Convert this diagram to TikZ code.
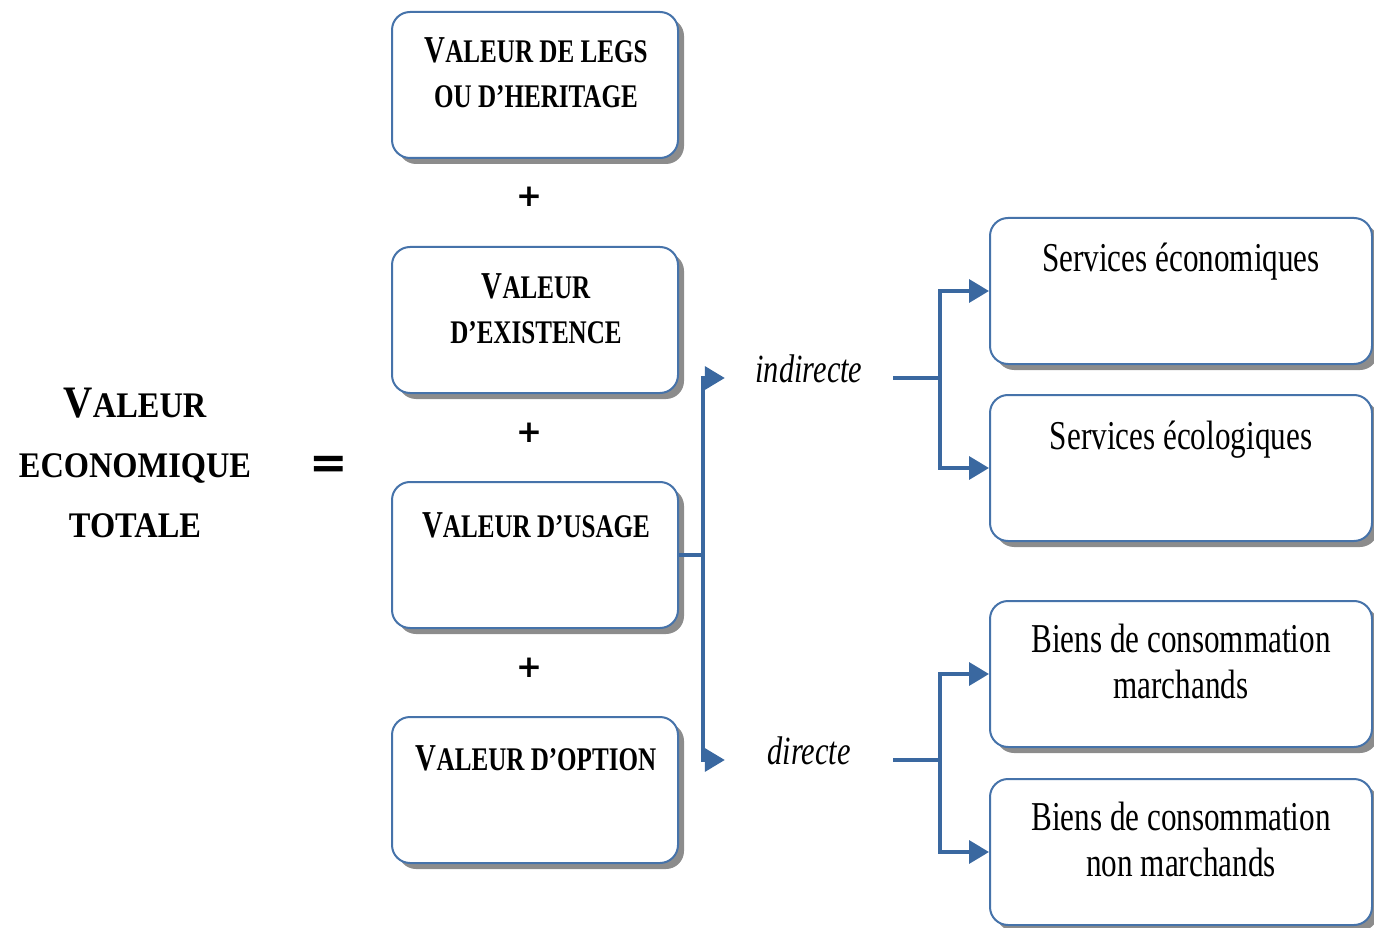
\documentclass[tikz,border=0pt]{standalone}
\usepackage{fontspec}
\setmainfont{Liberation Serif}[FakeStretch=0.76]
\newfontfamily\titlefont{Liberation Serif}[FakeStretch=0.9]
\newfontfamily\signfont{DejaVu Sans}
\usetikzlibrary{arrows.meta,shadows}
\definecolor{boxblue}{RGB}{70,115,170}
\definecolor{linkblue}{RGB}{58,104,160}
\newcommand\smc[1]{{\fontsize{33}{45}\selectfont #1}}
\tikzset{
  box/.style={draw=boxblue, line width=2pt, rounded corners=18pt, fill=white,
    minimum width=286pt, minimum height=146pt, inner sep=0pt,
    drop shadow={shadow xshift=6pt, shadow yshift=-6pt, fill=black!60, opacity=0.75}},
  rbox/.style={box, minimum width=382pt},
  conn/.style={draw=linkblue, line width=3.5pt},
  tipend/.style={-{Triangle[length=20pt,width=23pt]}},
  lbl/.style={anchor=base, align=center, inner sep=0pt},
  boxtext/.style={lbl, font=\bfseries\fontsize{38}{45}\selectfont},
  rtext/.style={lbl, font=\fontsize{41}{46}\selectfont},
  branch/.style={inner sep=0pt, minimum width=168pt, text height=12pt, text depth=4pt,
    font=\itshape\fontsize{40}{40}\selectfont},
  sign/.style={inner sep=0pt, font=\signfont\bfseries\fontsize{31}{31}\selectfont}
}
\begin{document}
\begin{tikzpicture}[x=1pt,y=-1pt]
\useasboundingbox (0,0) rectangle (1374,928);

% left column boxes
\node[box] (b1) at (535,85) {};
\node[box] (b2) at (535,320) {};
\node[box] (b3) at (535,555) {};
\node[box] (b4) at (535,790) {};
\node[boxtext] (t1) at (536,108) {V\smc{ALEUR DE LEGS}\\\smc{OU D’HERITAGE}};
\node[boxtext] (t2) at (536,343) {V\smc{ALEUR}\\\smc{D’EXISTENCE}};
\node[boxtext] (t3) at (536,537) {V\smc{ALEUR D’USAGE}};
\node[boxtext] (t4) at (536,770) {V\smc{ALEUR D’OPTION}};

% plus signs
\node[sign] (p1) at (529,197) {+};
\node[sign] (p2) at (529,433) {+};
\node[sign] (p3) at (529,668) {+};

% title and equal sign
\node[lbl, font=\titlefont\bfseries\fontsize{45}{60}\selectfont] (title) at (135,537)
  {V{\fontsize{36}{60}\selectfont ALEUR}\\{\fontsize{36}{60}\selectfont ECONOMIQUE}\\{\fontsize{36}{60}\selectfont TOTALE}};
\node[sign, font=\signfont\bfseries\fontsize{46}{46}\selectfont] (eq) at (329,467) {=};

% right boxes
\node[rbox] (A) at (1181,291) {};
\node[rbox] (B) at (1181,468) {};
\node[rbox] (C) at (1181,674) {};
\node[rbox] (D) at (1181,852) {};
\node[rtext] (tA) at (1181,272) {Services économiques};
\node[rtext] (tB) at (1181,449) {Services écologiques};
\node[rtext] (tC) at (1181,698) {Biens de consommation\\marchands};
\node[rtext] (tD) at (1181,876) {Biens de consommation\\non marchands};

% branch labels
\node[branch] (ind) at (809,378) {indirecte};
\node[branch] (dir) at (809,760) {directe};

% connectors
\coordinate (v) at (703,555);
\coordinate (j1) at (940,378);
\coordinate (j2) at (940,760);
\draw[conn] (b3.east) -- (v);
\draw[conn,tipend] (v) |- (ind.west);
\draw[conn,tipend] (v) |- (dir.west);
\draw[conn] (ind.east) -- (j1);
\draw[conn,tipend] (j1) |- (A.west);
\draw[conn,tipend] (j1) |- (B.west);
\draw[conn] (dir.east) -- (j2);
\draw[conn,tipend] (j2) |- (C.west);
\draw[conn,tipend] (j2) |- (D.west);
\end{tikzpicture}
\end{document}
